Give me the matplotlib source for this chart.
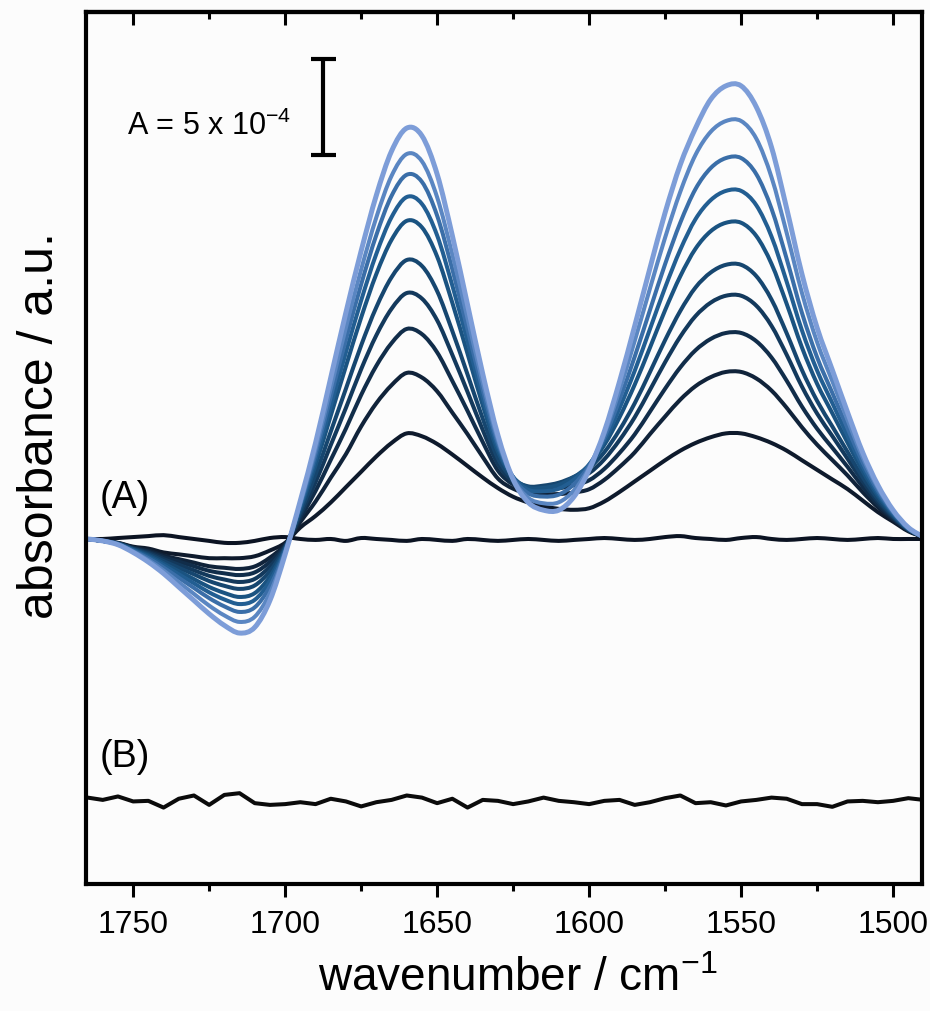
import matplotlib
matplotlib.use("Agg")
import numpy as np
import matplotlib.pyplot as plt
from matplotlib import font_manager
from matplotlib.path import Path
from matplotlib.patches import PathPatch
from matplotlib.ticker import MultipleLocator

# wavenumber grid, cm^-1
WAVENUMBER = [1765, 1760, 1755, 1750, 1745, 1740, 1735, 1730, 1725, 1720,
              1715, 1710, 1705, 1700, 1695, 1690, 1685, 1680, 1675, 1670,
              1665, 1660, 1655, 1650, 1645, 1640, 1635, 1630, 1625, 1620,
              1615, 1610, 1605, 1600, 1595, 1590, 1585, 1580, 1575, 1570,
              1565, 1560, 1555, 1550, 1545, 1540, 1535, 1530, 1525, 1520,
              1515, 1510, 1505, 1500, 1495, 1490]

# (A) difference spectra, absorbance in units of 1e-4, first to last time step
SPEC_0 = [0.0, 0.0, 0.05, 0.1, 0.15, 0.2, 0.1, 0.0, -0.1, -0.2, -0.2, -0.1, 0.05, 0.1,
          0.0, -0.05, 0.0, -0.1, 0.05, 0.0, -0.05, -0.1, 0.0, -0.05, -0.1, 0.0, -0.05,
          -0.1, -0.05, 0.0, -0.05, -0.1, -0.05, 0.0, 0.05, 0.0, -0.05, 0.0, 0.1, 0.15,
          0.05, 0.0, -0.05, 0.05, 0.1, 0.0, -0.05, 0.0, 0.05, 0.0, -0.05, 0.0, 0.05,
          0.0, 0.0, 0.0]
SPEC_1 = [0.0, -0.1, -0.2, -0.4, -0.5, -0.7, -0.8, -0.9, -1.0, -1.0, -1.0, -0.9, -0.6, -0.2,
          0.6, 1.2, 1.9, 2.7, 3.5, 4.3, 5.0, 5.5, 5.35, 4.95, 4.4, 3.8, 3.2, 2.65, 2.2, 1.9, 1.7,
          1.57, 1.52, 1.6, 1.95, 2.45, 3.0, 3.55, 4.1, 4.6, 5.0, 5.3, 5.5, 5.5, 5.3, 5.0, 4.6,
          4.1, 3.6, 3.1, 2.6, 2.0, 1.4, 0.9, 0.4, 0.1]
SPEC_2 = [0.0, -0.1, -0.21, -0.44, -0.60, -0.86, -1.05, -1.23, -1.42, -1.50, -1.56, -1.43, -0.97, -0.29,
          0.88, 1.95, 3.19, 4.42, 5.86, 7.07, 8.01, 8.65, 8.41, 7.69, 6.58, 5.46, 4.27, 3.15, 2.62, 2.38, 2.34,
          2.34, 2.42, 2.59, 3.08, 3.75, 4.51, 5.46, 6.38, 7.26, 7.96, 8.43, 8.70, 8.70, 8.36, 7.73, 6.83,
          5.82, 4.91, 4.11, 3.31, 2.44, 1.65, 1.01, 0.44, 0.10]
SPEC_3 = [0.0, -0.1, -0.22, -0.47, -0.66, -0.95, -1.18, -1.42, -1.66, -1.79, -1.88, -1.74, -1.19, -0.34,
          1.08, 2.50, 4.12, 5.75, 7.50, 9.02, 10.20, 10.94, 10.67, 9.72, 8.23, 6.67, 5.05, 3.56, 2.84, 2.56, 2.57,
          2.64, 2.80, 3.06, 3.65, 4.48, 5.45, 6.63, 7.83, 8.94, 9.83, 10.42, 10.73, 10.73, 10.30, 9.45, 8.24,
          6.90, 5.74, 4.75, 3.76, 2.72, 1.80, 1.07, 0.46, 0.10]
SPEC_4 = [0.0, -0.1, -0.23, -0.50, -0.72, -1.05, -1.34, -1.63, -1.92, -2.11, -2.24, -2.08, -1.43, -0.39,
          1.24, 2.95, 4.89, 6.83, 8.84, 10.61, 11.99, 12.81, 12.52, 11.39, 9.59, 7.66, 5.68, 3.89, 3.00, 2.68, 2.72,
          2.83, 3.08, 3.43, 4.15, 5.15, 6.34, 7.76, 9.21, 10.54, 11.61, 12.31, 12.67, 12.67, 12.15, 11.10, 9.59,
          7.94, 6.53, 5.36, 4.18, 2.99, 1.95, 1.14, 0.48, 0.10]
SPEC_5 = [0.0, -0.1, -0.24, -0.52, -0.79, -1.15, -1.50, -1.84, -2.19, -2.44, -2.60, -2.42, -1.67, -0.45,
          1.40, 3.36, 5.59, 7.83, 10.08, 12.07, 13.63, 14.53, 14.22, 12.91, 10.83, 8.57, 6.27, 4.19, 3.13, 2.74, 2.78,
          2.93, 3.24, 3.69, 4.52, 5.68, 7.07, 8.69, 10.36, 11.88, 13.10, 13.88, 14.28, 14.28, 13.69, 12.47, 10.71,
          8.80, 7.19, 5.86, 4.54, 3.21, 2.08, 1.19, 0.50, 0.10]
SPEC_6 = [0.0, -0.1, -0.25, -0.56, -0.86, -1.27, -1.68, -2.09, -2.50, -2.81, -3.02, -2.82, -1.95, -0.51,
          1.57, 3.84, 6.42, 9.00, 11.53, 13.80, 15.58, 16.57, 16.23, 14.71, 12.30, 9.65, 6.96, 4.55, 3.22, 2.68, 2.67,
          2.82, 3.22, 3.85, 4.90, 6.34, 8.04, 9.96, 11.92, 13.69, 15.12, 16.03, 16.47, 16.47, 15.78, 14.33, 12.24,
          9.98, 8.08, 6.55, 5.02, 3.52, 2.25, 1.26, 0.52, 0.10]
SPEC_7 = [0.0, -0.1, -0.26, -0.58, -0.93, -1.37, -1.84, -2.31, -2.78, -3.15, -3.39, -3.17, -2.19, -0.57,
          1.68, 4.14, 6.93, 9.72, 12.42, 14.85, 16.76, 17.81, 17.45, 15.81, 13.20, 10.30, 7.38, 4.77, 3.23, 2.56, 2.49,
          2.62, 3.09, 3.88, 5.12, 6.81, 8.76, 10.93, 13.10, 15.07, 16.66, 17.65, 18.13, 18.13, 17.38, 15.75, 13.39,
          10.87, 8.77, 7.08, 5.39, 3.75, 2.38, 1.32, 0.54, 0.10]
SPEC_8 = [0.0, -0.1, -0.27, -0.62, -1.00, -1.49, -2.02, -2.55, -3.08, -3.51, -3.80, -3.56, -2.47, -0.63,
          1.79, 4.42, 7.41, 10.39, 13.26, 15.83, 17.87, 18.97, 18.60, 16.84, 14.04, 10.91, 7.77, 4.97, 3.20, 2.38, 2.21,
          2.31, 2.85, 3.82, 5.29, 7.25, 9.50, 11.92, 14.32, 16.48, 18.23, 19.32, 19.84, 19.84, 19.00, 17.20, 14.58,
          11.78, 9.46, 7.61, 5.77, 3.98, 2.51, 1.38, 0.56, 0.10]
SPEC_9 = [0.0, -0.1, -0.29, -0.66, -1.10, -1.64, -2.25, -2.86, -3.47, -3.98, -4.32, -4.05, -2.81, -0.71,
          1.88, 4.68, 7.85, 11.02, 14.03, 16.75, 18.91, 20.05, 19.67, 17.80, 14.82, 11.49, 8.14, 5.16, 3.14, 2.14, 1.86,
          1.91, 2.53, 3.72, 5.46, 7.74, 10.32, 13.04, 15.70, 18.09, 20.01, 21.21, 21.77, 21.77, 20.85, 18.84, 15.93,
          12.82, 10.25, 8.22, 6.20, 4.25, 2.66, 1.44, 0.58, 0.10]
SPEC_10 = [0.0, -0.1, -0.3, -0.7, -1.2, -1.8, -2.5, -3.2, -3.9, -4.5, -4.9, -4.6, -3.2, -0.8,
           2.0, 5.0, 8.4, 11.8, 15.0, 17.9, 20.2, 21.4, 21.0, 19.0, 15.8, 12.2, 8.6, 5.4, 3.1, 1.9, 1.5,
           1.5, 2.2, 3.6, 5.6, 8.2, 11.1, 14.1, 17.0, 19.5, 21.4, 22.9, 23.6, 23.6, 22.5, 20.4, 17.2,
           13.8, 11.0, 8.8, 6.6, 4.5, 2.8, 1.5, 0.6, 0.1]

# (B) control trace, same units, drawn shifted below (A)
TRACE_B = [0.15, 0.03, 0.21, -0.05, -0.02, -0.37, 0.09, 0.26, -0.23, 0.29,
           0.38, -0.14, -0.23, -0.19, -0.09, -0.19, 0.09, -0.05, -0.31, -0.09,
           0.03, 0.26, 0.15, -0.14, 0.09, -0.37, 0.03, -0.02, -0.19, -0.05,
           0.15, -0.02, -0.09, -0.19, -0.02, 0.03, -0.23, -0.09, 0.12, 0.26,
           -0.14, -0.09, -0.26, -0.05, 0.03, 0.15, 0.09, -0.19, -0.19, -0.33,
           -0.05, -0.02, -0.09, -0.02, 0.12, 0.03]

SCALE_BAR = 5  # 5 x 10^-4

SPECTRA = [SPEC_0, SPEC_1, SPEC_2, SPEC_3, SPEC_4, SPEC_5,
           SPEC_6, SPEC_7, SPEC_8, SPEC_9, SPEC_10]
COLORS = ["#0b1322", "#0e1a2c", "#10233a", "#112d4a", "#13395c", "#16466f",
          "#1a5381", "#225e92", "#3a6ea8", "#5a86c2", "#7d9dd8"]
OFFSET_B = -13.62

names = {f.name for f in font_manager.fontManager.ttflist}
FONT = "Liberation Sans Narrow" if "Liberation Sans Narrow" in names else "Liberation Sans"
plt.rcParams["font.family"] = [FONT, "DejaVu Sans"]
plt.rcParams["mathtext.fontset"] = "custom"
plt.rcParams["mathtext.rm"] = FONT
plt.rcParams["mathtext.default"] = "regular"


def spline_path(x, y):
    """Spline-connected line (Catmull-Rom as cubic Bezier) through the points."""
    pts = np.column_stack([x, y]).astype(float)
    n = len(pts)
    verts, codes = [pts[0]], [Path.MOVETO]
    for i in range(n - 1):
        p0, p1 = pts[max(i - 1, 0)], pts[i]
        p2, p3 = pts[i + 1], pts[min(i + 2, n - 1)]
        verts += [p1 + (p2 - p0) / 6, p2 - (p3 - p1) / 6, p2]
        codes += [Path.CURVE4] * 3
    return Path(verts, codes)


fig = plt.figure(figsize=(9.3, 10.12), dpi=100)
fig.patch.set_facecolor("#fcfcfc")
ax = fig.add_axes([0.0925, 0.1255, 0.8989, 0.8617])
ax.set_facecolor("#fcfcfc")

for spec, col in zip(SPECTRA, COLORS):
    lw = 3.6 if col == COLORS[-1] else 2.9
    ax.add_patch(PathPatch(spline_path(WAVENUMBER, spec), fill=False,
                           edgecolor=col, lw=lw, capstyle="round",
                           joinstyle="round"))

ax.plot(WAVENUMBER, [v + OFFSET_B for v in TRACE_B], color="#0b0b0b", lw=2.9,
        solid_joinstyle="round")

# absorbance scale bar
bar_x, bar_y0 = 1687.5, 20.0
ax.errorbar(bar_x, bar_y0 + SCALE_BAR / 2, yerr=SCALE_BAR / 2, color="black",
            lw=3, capsize=9, capthick=3)
ax.text(1752, 21.1, r"A = 5 x 10$^{-4}$", fontsize=22, ha="left", va="baseline")

ax.text(1761, 2.2, "(A)", fontsize=27, ha="left", va="center")
ax.text(1761, -11.3, "(B)", fontsize=27, ha="left", va="center")

ax.set_xlim(1765.5, 1490.5)
ax.set_ylim(-17.97, 27.45)
ax.set_yticks([])
ax.set_xticks([1750, 1700, 1650, 1600, 1550, 1500])
ax.xaxis.set_minor_locator(MultipleLocator(25))
ax.tick_params(axis="x", which="major", direction="out", length=9, width=2.2,
               labelsize=23, pad=9)
ax.tick_params(axis="x", which="minor", direction="out", length=5, width=2.2)

top = ax.secondary_xaxis("top")
top.set_xticks([1750, 1700, 1650, 1600, 1550, 1500])
top.xaxis.set_minor_locator(MultipleLocator(25))
top.tick_params(axis="x", which="major", direction="in", length=9, width=2.2,
                labeltop=False)
top.tick_params(axis="x", which="minor", direction="in", length=5, width=2.2)
top.spines["top"].set_linewidth(3)

for s in ax.spines.values():
    s.set_linewidth(3)

ax.set_xlabel(r"wavenumber / cm$^{-1}$", fontsize=33)
ax.set_ylabel("absorbance / a.u.", fontsize=36)
ax.xaxis.set_label_coords(0.516, -0.083)
ax.yaxis.set_label_coords(-0.027, 0.527)

fig.savefig("out.png", dpi=100, facecolor=fig.get_facecolor())
